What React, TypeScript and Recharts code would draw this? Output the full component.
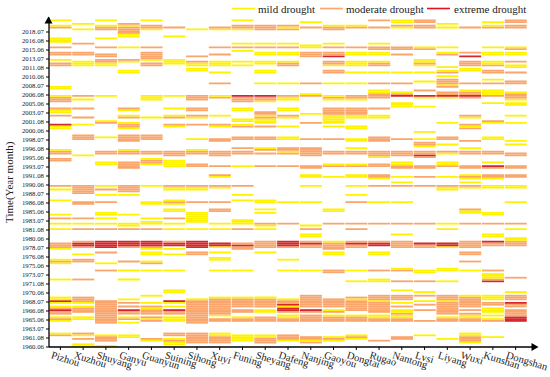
import React from 'react';
import { BarChart, Bar, XAxis, YAxis, Cell } from 'recharts';

const stations = [
  'Pizhou', 'Xuzhou', 'Shuyang', 'Ganyu', 'Guanyun', 'Suining', 'Sihong', 'Xuyi', 'Funing', 'Sheyang', 'Dafeng',
  'Nanjing', 'Gaoyou', 'Dongtai', 'Rugao', 'Nantong', 'Lvsi', 'Liyang', 'Wuxi', 'Kunshan', 'Dongshan',
];

// one tick every 5 rows (rows are Jun, Jul, Aug of each year)
const tickLabels = [
  '1960.06', '1961.08', '1963.07', '1965.06', '1966.08', '1968.07', '1970.06', '1971.08', '1973.07', '1975.06',
  '1976.08', '1978.07', '1980.06', '1981.08', '1983.07', '1985.06', '1986.08', '1988.07', '1990.06', '1991.08',
  '1993.07', '1995.06', '1996.08', '1998.07', '2000.06', '2001.08', '2003.07', '2005.06', '2006.08', '2008.07',
  '2010.06', '2011.08', '2013.07', '2015.06', '2016.08', '2018.07',
];

const levelNames = ['mild drought', 'moderate drought', 'extreme drought'];
const levelColors = ['#FFF200', '#F9A56C', '#D7262B'];
const legendLineColors = ['#FFF200', '#F9A56C', '#E0141E'];
// legend item left edges (line start, text start)
const legendX = [
  [232, 258],
  [320, 346],
  [427, 454],
];

// drought months per station: row index from 1960.06 (3 rows a year), y = mild, o = moderate, r = extreme
const droughtRuns = [
  '181y 178y 177o 171y 170-169y 166o 163-162o 159y 157-156o 144-143y 139y 138-136o 132o 131-130y 128o 123r 122-121y 109y 108-107o 104-103o 89o 87y 81y 73y 71o 68y 65y 57-55o 54y 48y 47o 46y 37y 27-26y 25r 24y 22y 21o 20r 19-18o 16y 15o 14y 7y 6o',
  '179y 176y 168o 163-162o 158-156y 139o 137y 132o 127o 123y 117-115o 106y 89-85o 80-79o 71o 68y 65o 58o 57-56r 55o 51y 48-47o 37o 27-25o 24y 22y 21-19o 16-15y 7o 6y 4o 1-0y',
  '181y 178y 177-176o 171y 166o 162-161o 159-158o 157-156y 139y 125y 124o 116y 108-107o 102-101y 89y 87o 84y 80o 74-73y 71y 68y 65o 58-55r 52o 46y 42o 25-13o 6y 5-3o 0y',
  '179o 178y 177-174o 173-172y 166y 159o 158y 153-152y 132o 131y 128y 127o 124y 123-122o 121y 117-114o 109y 108-107o 102-99o 89-86o 84y 73y 68-67y 65o 58-56r 55o 47o 42y 37y 26y 24o 22o 20r 19-18o 16y 15o 13y 6-5y',
  '181y 178-177o 176y 166o 163-160o 159y 157-156o 139-137y 127y 117-115o 108-107o 104y 103-102o 101y 89y 80-79y 71y 69-68y 65o 58-56r 55o 54y 52-51y 47y 46o 42y 28y 24y 22o 21y 20-18o 16o 15y 14o 4o 3y',
  '177o 172y 159-157y 139y 132y 128y 127o 123o 122y 108-106o 103-100y 89o 88-87y 81y 80o 79y 76-75y 71o 68y 65y 58o 57-56r 54y 51y 42y 31-30y 25r 24y 22y 20r 19-18o 16-14y 7-6o 4y 3o 2-1y',
  '176y 161o 158o 157-156y 154-153y 139-137o 132-131o 128o 127y 123o 115y 109y 108-107o 101-100o 89o 88-87y 80o 74-69y 65y 58-55r 52-51o 26y 25-13o 7-2o',
  '177o 176y 166o 162o 158-156y 152y 146o 139y 138o 128y 123o 122y 115-114o 108-106o 100o 95o 94y 89o 88y 80o 76-75o 68y 65y 57-56r 55y 52y 49-48y 42y 27y 26-18o 17y 15-14o 7-6y 5-2o',
  '181y 178-177o 176y 168y 166o 164y 158y 156y 139r 138-136o 132-131y 126-125y 123y 122o 116-115o 110o 108-107o 100y 89o 84y 81y 70-68y 65o 57o 56r 55-54o 42y 27y 26-22o 20-19o 16y 15-14o 6-3y',
  '178-176o 168y 166o 163-162y 158-157y 153-152y 146y 139r 138-137o 136y 130-129o 128y 127o 126-124y 122o 116-115o 110y 109o 107o 100o 81-80y 76y 74y 68o 67y 65y 58-55o 52y 27y 26-22o 20-19y 16-14o 6-5y 4-2o',
  '178o 177y 176o 168y 166o 163-162y 158y 157-156o 146y 139o 138-137y 132-131y 128o 127y 122y 116-115y 110-109o 108y 107o 100o 80y 68o 58-56r 55o 48y 42y 26y 25o 24o 23r 22y 21-20r 19o 17-16y 15-14o 6-4o 3y',
  '180y 177o 167-166y 163-161o 146o 140y 139o 129y 124o 115o 110-106o 100-99o 95-94y 89y 80y 67y 65o 62-61y 58o 57r 56-55o 42y 28-22o 20r 19o 17-14o 5-4o 3y 2o',
  '178y 177-176o 168y 166o 163-162o 161r 158-157o 156y 153-152o 146y 139y 138o 137y 132-129o 128-124y 122y 115o 108-107o 101y 100o 94y 76-75y 68o 58y 57-54o 52-51y 42-41o 26-22o 20y 19o 17y 16-14o 5y 4o 3y',
  '178y 177o 166o 163-162y 158-156y 152y 146y 139-138o 137y 132-129o 128-127y 122-121y 115-114y 110y 108-107o 101y 100o 95-94y 89y 84y 80o 68o 65o 58o 57r 56-55o 42y 36y 27o 26y 25-20o 17y 16-14o 6y 5o 4y',
  '181o 177o 168y 166-165o 163-162y 158y 157-156o 152y 146o 142-141y 140-138o 132o 128-127y 116-114o 108-106o 105y 101-100o 95-94o 93y 89o 80y 68o 58o 57-56r 52-51y 42o 37-36y 28-26o 25y 24-19o 17-16y 15-14o 3o',
  '181-180y 178o 177y 166-165o 162o 152y 146o 141y 140o 139r 135-133y 115o 108-106o 102-101y 100-99o 94y 91y 89o 80y 68o 62y 58-55o 43y 42o 36o 31y 28-26o 24y 22o 20-19y 18o 17-16y 15-14o 5-4o',
  '181-180o 178-177o 166y 165o 159-158y 157o 156y 152y 147y 142o 139r 138y 133y 119y 115y 113-112o 111y 108-107o 106r 105o 100-99o 94o 89o 68o 57r 56-55o 42-41y 36o 30y 28o 25y 23o 20o 14o 6y',
  '179y 177y 166y 163y 162o 155y 153y 152o 150y 148-146o 145y 144o 141-140o 139r 138y 124y 116-115o 112y 108o 107y 102-101y 100o 94y 89o 88-87y 68y 65y 57-56r 55y 43-42y 36y 28-26o 25y 24-18o 16y 15-14o 4y',
  '177o 163o 161r 158-156o 154-153y 146o 142y 141-140o 139r 138o 128o 127y 123o 122y 121o 114o 110y 108-107o 100-99o 95y 94o 93y 91y 89o 88y 76o 75y 74y 68o 58-55o 52-51o 47o 42y 28y 27-22o 20o 18o 17-16y 15-14o 7-6y 5-3o 2y',
  '180y 178y 177o 166y 163-162y 158-157y 156o 153-152o 148y 146o 142-140y 139o 135y 125o 124y 116-115y 108-107o 102y 100r 99o 95-94o 93y 89-88y 74-73y 68o 62-61y 58r 57-56o 42o 40-38y 37o 36r 28-26y 24-23o 21-19y 17y 15y 14o 5y',
  '181-180o 178-177o 166y 165o 163-162y 158o 156-155y 152o 147-146o 141y 140-138o 137y 135-134y 128y 124y 114y 112y 107-106o 100-99o 95-94o 89-88y 80y 68o 65y 60-59y 58-56o 38o 30y 28-26o 24r 23-22o 20-18o 17o 16-14r',
];

const ROWS = 183;
const W = 550;
const H = 377;
const MARGIN = { top: 17.6, right: 14, bottom: 0, left: 0 };
const Y_AXIS_W = 49;
const X_AXIS_H = 30;
const FONT = 'Liberation Serif';

function parseRuns(s: string): number[] {
  const out = new Array(ROWS).fill(0);
  s.trim().split(/\s+/).forEach((tok) => {
    const m = tok.match(/^(\d+)(?:-(\d+))?([yor])$/);
    if (!m) return;
    const a = +m[1];
    const b = m[2] ? +m[2] : a;
    const lv = 'yor'.indexOf(m[3]) + 1;
    for (let r = Math.min(a, b); r <= Math.max(a, b); r++) out[r] = lv;
  });
  return out;
}

const levels = droughtRuns.map(parseRuns);
const rowKeys = Array.from({ length: ROWS }, (_, r) => `r${r}`);
const chartData = stations.map((name) => {
  const d: Record<string, string | number> = { name };
  rowKeys.forEach((k) => (d[k] = 1));
  return d;
});
const tickValues = tickLabels.map((_, i) => i * 5);

const StationTick = (props: any) => {
  const { x, y, payload } = props;
  return (
    <text transform={`translate(${x - 10},${y + 6}) rotate(17)`} fontSize={10.5} fontFamily={FONT} fill="#222">
      {payload.value}
    </text>
  );
};

export default function App() {
  const plotTop = MARGIN.top;
  const plotBottom = H - X_AXIS_H;
  const plotLeft = Y_AXIS_W;
  const plotRight = W - MARGIN.right;

  return (
    <div style={{ position: 'absolute', left: 0, top: 0, width: W, height: H, background: '#fff' }}>
      <BarChart width={W} height={H} data={chartData} margin={MARGIN} barCategoryGap={0.5} barGap={0}>
        <XAxis
          dataKey="name"
          type="category"
          interval={0}
          height={X_AXIS_H}
          padding={{ left: 0, right: 9 }}
          tick={<StationTick />}
          tickSize={3}
          tickMargin={2}
          axisLine={{ stroke: '#000', strokeWidth: 1.3 }}
          tickLine={{ stroke: '#000' }}
        />
        <YAxis
          type="number"
          domain={[0, ROWS]}
          ticks={tickValues}
          interval={0}
          width={Y_AXIS_W}
          tickSize={3}
          tickMargin={2}
          tickFormatter={(v: number) => tickLabels[v / 5] ?? ''}
          tick={{ fontSize: 6.8, fontFamily: FONT, fill: '#222' }}
          axisLine={{ stroke: '#000', strokeWidth: 1.3 }}
          tickLine={{ stroke: '#000' }}
          allowDataOverflow
        />
        {rowKeys.map((k, r) => (
          <Bar key={k} dataKey={k} stackId="cells" isAnimationActive={false}>
            {stations.map((s, i) => (
              <Cell key={s} fill={levels[i][r] ? levelColors[levels[i][r] - 1] : 'none'} />
            ))}
          </Bar>
        ))}
      </BarChart>

      <svg width={W} height={H} style={{ position: 'absolute', left: 0, top: 0, pointerEvents: 'none' }}>
        <polygon
          points={`${plotLeft - 0.5},${plotTop - 1} ${plotLeft - 4.5},${plotTop + 6} ${plotLeft + 3.5},${plotTop + 6}`}
          fill="#000"
        />
        <polygon
          points={`${plotRight + 2.5},${plotBottom} ${plotRight - 4.5},${plotBottom - 4} ${plotRight - 4.5},${plotBottom + 4}`}
          fill="#000"
        />
        <text
          transform={`translate(10,${(plotTop + plotBottom) / 2}) rotate(-90)`}
          textAnchor="middle"
          dominantBaseline="middle"
          fontSize={11}
          fontFamily={FONT}
          fill="#222"
        >
          Time(Year month)
        </text>
        {levelNames.map((n, i) => (
          <g key={n}>
            <line x1={legendX[i][0]} x2={legendX[i][0] + 23} y1={8.5} y2={8.5} stroke={legendLineColors[i]} strokeWidth={1.6} />
            <text x={legendX[i][1]} y={12.5} fontSize={11} fontFamily={FONT} fill="#222">
              {n}
            </text>
          </g>
        ))}
      </svg>
    </div>
  );
}
